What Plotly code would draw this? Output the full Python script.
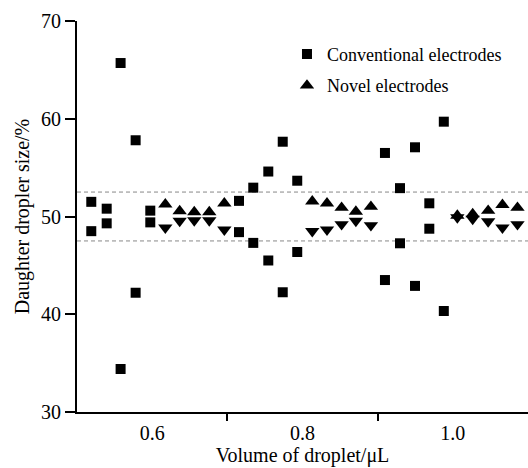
import plotly.graph_objects as go

# Conventional electrodes (squares): volume, upper & lower daughter sizes
conv_x = [0.519, 0.5395, 0.558, 0.578, 0.5975, 0.7155, 0.7345, 0.7545, 0.7737, 0.793,
          0.9097, 0.9297, 0.9497, 0.9687, 0.988]
conv_hi = [51.5, 50.8, 65.7, 57.8, 50.6, 51.6, 52.95, 54.6, 57.65, 53.66,
           56.5, 52.9, 57.08, 51.35, 59.7]
conv_lo = [48.5, 49.3, 34.4, 42.2, 49.4, 48.4, 47.3, 45.5, 42.25, 46.37,
           43.5, 47.26, 42.9, 48.75, 40.33]

# Novel electrodes (triangles up = larger droplet, triangles down = smaller droplet)
nov_x = [0.6175, 0.6366, 0.656, 0.676, 0.696, 0.813, 0.8326, 0.852, 0.871, 0.891,
         1.006, 1.0264, 1.047, 1.066, 1.086]
nov_hi = [51.25, 50.55, 50.45, 50.45, 51.35, 51.55, 51.35, 50.9, 50.5, 51.0,
          50.1, 50.25, 50.6, 51.2, 50.9]
nov_lo = [48.85, 49.55, 49.6, 49.6, 48.65, 48.5, 48.65, 49.2, 49.55, 49.1,
          49.9, 49.75, 49.5, 48.85, 49.2]

band = [47.5, 52.5]
x_labels = [0.6, 0.8, 1.0]
x_minor = [0.7, 0.9]
y_ticks = [30, 40, 50, 60, 70]

FONT = "Liberation Serif"

fig = go.Figure()
fig.add_trace(go.Scatter(
    x=conv_x + conv_x, y=conv_hi + conv_lo, mode="markers",
    name="Conventional electrodes", legendgroup="a",
    marker=dict(symbol="square", size=10, color="black"),
))
fig.add_trace(go.Scatter(
    x=nov_x, y=nov_hi, mode="markers", name="Novel electrodes", legendgroup="b",
    marker=dict(symbol="triangle-up", size=12.5, color="black"),
))
fig.add_trace(go.Scatter(
    x=nov_x, y=nov_lo, mode="markers", name="Novel electrodes (lower)", showlegend=False,
    marker=dict(symbol="triangle-down", size=12.5, color="black"),
))

for yv in band:
    fig.add_shape(type="line", xref="paper", x0=0, x1=1, yref="y", y0=yv, y1=yv,
                  line=dict(color="#888888", width=1, dash="4px,3px"), layer="below")

fig.update_layout(
    width=528, height=468,
    margin=dict(l=77, r=0, t=21, b=56, autoexpand=False),
    paper_bgcolor="white", plot_bgcolor="white",
    font=dict(family=FONT, size=20, color="black"),
    showlegend=True,
    legend=dict(x=0.4656, y=0.962, xanchor="left", yanchor="top",
                font=dict(family=FONT, size=18), tracegroupgap=5,
                bgcolor="rgba(0,0,0,0)", itemwidth=30),
    xaxis=dict(
        range=[0.5, 1.1], showgrid=False, zeroline=False,
        showline=True, linecolor="black", linewidth=2,
        tickmode="array", tickvals=x_labels, ticktext=["0.6", "0.8", "1.0"],
        ticks="", ticklabelstandoff=2,
        minor=dict(tickmode="array", tickvals=x_minor, ticks="outside",
                   ticklen=7, tickwidth=2, tickcolor="black"),
        title=dict(text="Volume of droplet/μL", standoff=2,
                   font=dict(family=FONT, size=20)),
    ),
    yaxis=dict(
        range=[30, 70], showgrid=False, zeroline=False,
        showline=True, linecolor="black", linewidth=2,
        tickmode="array", tickvals=y_ticks,
        ticks="outside", ticklen=10, tickwidth=2, tickcolor="black",
        title=dict(text="Daughter dropler size/%", standoff=6,
                   font=dict(family=FONT, size=20)),
    ),
)

fig.write_html("out.html", config={"displayModeBar": False},
               post_script="document.body.style.margin='0';document.body.style.overflow='hidden';")
